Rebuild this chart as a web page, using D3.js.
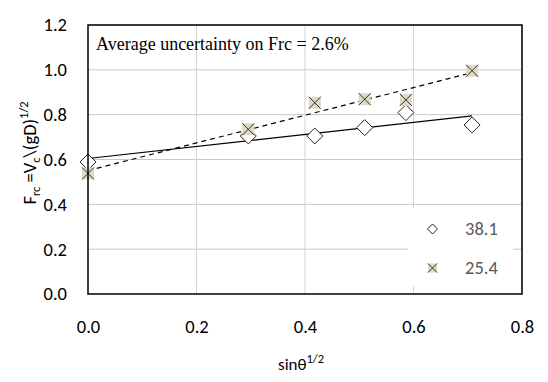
<!DOCTYPE html>
<html>
<head>
<meta charset="utf-8">
<script src="https://cdn.jsdelivr.net/npm/d3@7"></script>
<style>
  body { margin: 0; background: #fff; }
  svg { display: block; }
</style>
</head>
<body>
<div id="chart"></div>
<script>
// sin(theta)^1/2 values
const xs = [0, 0.2955, 0.418, 0.51, 0.586, 0.708];
// Frc for D = 38.1
const frc381 = [0.589, 0.705, 0.705, 0.742, 0.809, 0.754];
// Frc for D = 25.4
const frc254 = [0.538, 0.735, 0.853, 0.869, 0.866, 0.996];
const seriesNames = ["38.1", "25.4"];
const xTicks = [0, 0.2, 0.4, 0.6, 0.8];
const yTicks = [0, 0.2, 0.4, 0.6, 0.8, 1.0, 1.2];
const note = "Average uncertainty on Frc = 2.6%";

const width = 548;
const height = 382;
const margin = { top: 25, right: 26, bottom: 88, left: 88 };

const x = d3.scaleLinear().domain([0, 0.8]).range([margin.left, width - margin.right]);
const y = d3.scaleLinear().domain([0, 1.2]).range([height - margin.bottom, margin.top]);

const svg = d3.select("#chart")
  .append("svg")
  .attr("width", width)
  .attr("height", height);

const tickFont = "Carlito, 'Liberation Sans', sans-serif";

/* Gridlines */
svg.append("g")
  .selectAll("line")
  .data(yTicks.slice(1))
  .join("line")
  .attr("x1", margin.left)
  .attr("x2", width - margin.right)
  .attr("y1", (d) => y(d))
  .attr("y2", (d) => y(d))
  .attr("stroke", "#c8c8c8")
  .attr("stroke-width", 1);

svg.append("g")
  .selectAll("line")
  .data(xTicks.slice(1))
  .join("line")
  .attr("x1", (d) => x(d))
  .attr("x2", (d) => x(d))
  .attr("y1", margin.top)
  .attr("y2", height - margin.bottom)
  .attr("stroke", "#d4d4d4")
  .attr("stroke-width", 1);

/* Axes */
svg.append("g")
  .attr("transform", `translate(0,${height - margin.bottom})`)
  .call(d3.axisBottom(x).tickValues(xTicks).tickFormat(d3.format(".1f")).tickSize(0).tickPadding(26))
  .call((g) => g.select(".domain").remove())
  .call((g) => g.selectAll("text").attr("font-size", 18.5).attr("font-family", tickFont).attr("fill", "#000"));

svg.append("g")
  .attr("transform", `translate(${margin.left},0)`)
  .call(d3.axisLeft(y).tickValues(yTicks).tickFormat(d3.format(".1f")).tickSize(0).tickPadding(21))
  .call((g) => g.select(".domain").remove())
  .call((g) => g.selectAll("text").attr("font-size", 18.5).attr("font-family", tickFont).attr("fill", "#000"));

/* Trend lines (least squares) */
function fit(xv, yv) {
  const mx = d3.mean(xv), my = d3.mean(yv);
  let sxy = 0, sxx = 0;
  xv.forEach((v, i) => {
    sxy += (v - mx) * (yv[i] - my);
    sxx += (v - mx) * (v - mx);
  });
  const b = sxy / sxx;
  return [b, my - b * mx];
}

const lines = [
  { data: frc381, dash: null },
  { data: frc254, dash: "5,4" },
];
lines.forEach((s) => {
  const [b, a] = fit(xs, s.data);
  const x0 = d3.min(xs), x1 = d3.max(xs);
  svg.append("line")
    .attr("x1", x(x0))
    .attr("y1", y(a + b * x0))
    .attr("x2", x(x1))
    .attr("y2", y(a + b * x1))
    .attr("stroke", "#000")
    .attr("stroke-width", 1.2)
    .attr("stroke-dasharray", s.dash);
});

/* Markers */
function diamond(g, cx, cy, r) {
  g.append("path")
    .attr("d", `M${cx},${cy - r}L${cx + r},${cy}L${cx},${cy + r}L${cx - r},${cy}Z`)
    .attr("fill", "#fff")
    .attr("stroke", "#222")
    .attr("stroke-width", 1);
}

function cross(g, cx, cy, r) {
  g.append("rect")
    .attr("x", cx - r)
    .attr("y", cy - r)
    .attr("width", 2 * r)
    .attr("height", 2 * r)
    .attr("fill", "#ddd9c3");
  g.append("path")
    .attr("d", `M${cx - r},${cy - r}L${cx + r},${cy + r}M${cx + r},${cy - r}L${cx - r},${cy + r}`)
    .attr("stroke", "#333")
    .attr("stroke-width", 1);
}

const marks = svg.append("g");
xs.forEach((v, i) => diamond(marks, x(v), y(frc381[i]), 8));
xs.forEach((v, i) => cross(marks, x(v), y(frc254[i]), 6));

/* Plot border */
svg.append("rect")
  .attr("x", margin.left)
  .attr("y", margin.top)
  .attr("width", width - margin.left - margin.right)
  .attr("height", height - margin.top - margin.bottom)
  .attr("fill", "none")
  .attr("stroke", "#000")
  .attr("stroke-width", 1.5);

/* Annotation */
svg.append("text")
  .attr("x", 96)
  .attr("y", 50)
  .attr("font-family", "'Liberation Serif', 'Times New Roman', serif")
  .attr("font-size", 18)
  .attr("fill", "#000")
  .text(note);

/* Legend */
const legend = svg.append("g");
legend.append("rect")
  .attr("x", 408)
  .attr("y", 208)
  .attr("width", 105)
  .attr("height", 78)
  .attr("fill", "#fff");
diamond(legend, 432.5, 229, 5);
cross(legend, 432.5, 268, 4.5);
legend.selectAll("text")
  .data(seriesNames)
  .join("text")
  .attr("x", 465)
  .attr("y", (d, i) => 235 + i * 39)
  .attr("font-family", tickFont)
  .attr("font-size", 18.5)
  .attr("fill", "#595959")
  .text((d) => d);

/* Axis titles */
const xt = svg.append("text")
  .attr("x", 278)
  .attr("y", 370)
  .attr("font-family", tickFont)
  .attr("font-size", 17)
  .attr("fill", "#000");
xt.append("tspan").text("sinθ");
xt.append("tspan").attr("dy", -7).attr("font-size", 12.5).text("1/2");

const yt = svg.append("text")
  .attr("transform", "translate(36,153) rotate(-90)")
  .attr("text-anchor", "middle")
  .attr("font-family", tickFont)
  .attr("font-size", 18.5)
  .attr("fill", "#000");
yt.append("tspan").text("F");
yt.append("tspan").attr("dy", 4).attr("font-size", 12.5).text("rc");
yt.append("tspan").attr("dy", -4).text(" =V");
yt.append("tspan").attr("dy", 4).attr("font-size", 12.5).text("c");
yt.append("tspan").attr("dy", -4).text("\\(gD)");
yt.append("tspan").attr("dy", -8).attr("font-size", 12.5).text("1/2");
</script>
</body>
</html>
